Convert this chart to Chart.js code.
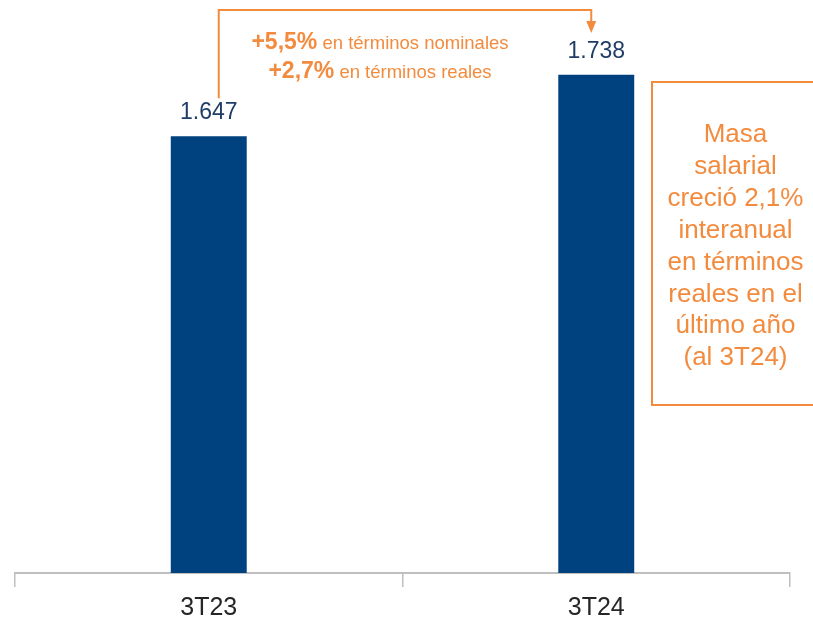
<!DOCTYPE html>
<html>
<head>
<meta charset="utf-8">
<script src="https://cdn.jsdelivr.net/npm/chart.js@4.4.1/dist/chart.umd.min.js"></script>
<style>
  html, body { margin: 0; padding: 0; background: #ffffff; }
  #wrap { width: 813px; height: 617px; position: relative; }
</style>
</head>
<body>
<div id="wrap"><canvas id="c" width="813" height="617"></canvas></div>
<script>
const categories = ['3T23', '3T24'];
const masaSalarial = [1647, 1738];
const valueLabels = ['1.647', '1.738'];
const bracketBold = ['+5,5%', '+2,7%'];
const bracketText = [' en términos nominales', ' en términos reales'];
const boxLines = ['Masa', 'salarial', 'creció 2,1%', 'interanual', 'en términos', 'reales en el', 'último año', '(al 3T24)'];

const ORANGE = '#F38B3E';
const NAVY = '#00427F';
const LABEL_BLUE = '#1F3D66';
const FONT = '"Liberation Sans", Arial, sans-serif';

const annotations = {
  id: 'annotations',
  afterDatasetsDraw(chart) {
    const ctx = chart.ctx;
    const bars = chart.getDatasetMeta(0).data;
    const area = chart.chartArea;
    ctx.save();
    // value labels
    ctx.fillStyle = LABEL_BLUE;
    ctx.font = '23px ' + FONT;
    ctx.textAlign = 'center';
    ctx.textBaseline = 'alphabetic';
    bars.forEach((b, i) => {
      ctx.fillText(valueLabels[i], b.x, b.y - 17);
    });

    // bracket arrow
    const x1 = bars[0].x + 10;
    const x2 = bars[1].x - 5;
    const yTop = area.top - 23;
    const yStart = bars[0].y - 38;
    const tipY = area.top;
    ctx.strokeStyle = ORANGE;
    ctx.lineWidth = 2;
    ctx.beginPath();
    ctx.moveTo(x1, yStart);
    ctx.lineTo(x1, yTop);
    ctx.lineTo(x2, yTop);
    ctx.lineTo(x2, tipY - 10);
    ctx.stroke();
    ctx.fillStyle = ORANGE;
    ctx.beginPath();
    ctx.moveTo(x2 - 5, tipY - 12);
    ctx.lineTo(x2 + 5, tipY - 12);
    ctx.lineTo(x2, tipY);
    ctx.closePath();
    ctx.fill();

    // bracket texts
    const cx = (x1 + x2) / 2 - 25;
    const baselines = [area.top + 15.5, area.top + 44.5];
    ctx.textAlign = 'left';
    for (let i = 0; i < bracketBold.length; i++) {
      ctx.font = 'bold 23px ' + FONT;
      const wb = ctx.measureText(bracketBold[i]).width;
      ctx.font = '18.5px ' + FONT;
      const wr = ctx.measureText(bracketText[i]).width;
      const start = cx - (wb + wr) / 2;
      ctx.font = 'bold 23px ' + FONT;
      ctx.fillText(bracketBold[i], start, baselines[i]);
      ctx.font = '18.5px ' + FONT;
      ctx.fillText(bracketText[i], start + wb, baselines[i]);
    }

    // box
    const boxL = 652, boxT = 82, boxB = 405;
    ctx.strokeStyle = ORANGE;
    ctx.lineWidth = 2;
    ctx.beginPath();
    ctx.moveTo(chart.width + 5, boxT);
    ctx.lineTo(boxL, boxT);
    ctx.lineTo(boxL, boxB);
    ctx.lineTo(chart.width + 5, boxB);
    ctx.stroke();
    ctx.font = '26px ' + FONT;
    ctx.textAlign = 'center';
    ctx.fillStyle = ORANGE;
    boxLines.forEach((t, i) => {
      ctx.fillText(t, 735.5, 142 + i * 31.9);
    });
    ctx.restore();
  }
};

new Chart(document.getElementById('c'), {
  type: 'bar',
  data: {
    labels: categories,
    datasets: [{
      data: masaSalarial,
      backgroundColor: NAVY,
      borderWidth: 0,
      barPercentage: 0.196,
      categoryPercentage: 1
    }]
  },
  options: {
    responsive: false,
    animation: false,
    layout: { padding: { top: 33, left: 15, right: 23, bottom: 0 } },
    plugins: { legend: { display: false }, tooltip: { enabled: false } },
    scales: {
      x: {
        offset: true,
        grid: {
          display: true, drawOnChartArea: false, drawTicks: true,
          tickLength: 14, color: '#BFBFBF', lineWidth: 1.5, offset: true
        },
        border: { display: true, color: '#BFBFBF', width: 2 },
        ticks: { color: '#262626', font: { family: FONT, size: 25 }, padding: 6 },
        afterFit(axis) { axis.height = 44; }
      },
      y: {
        display: false,
        min: 1000,
        max: 1800
      }
    }
  },
  plugins: [annotations]
});
</script>
</body>
</html>
